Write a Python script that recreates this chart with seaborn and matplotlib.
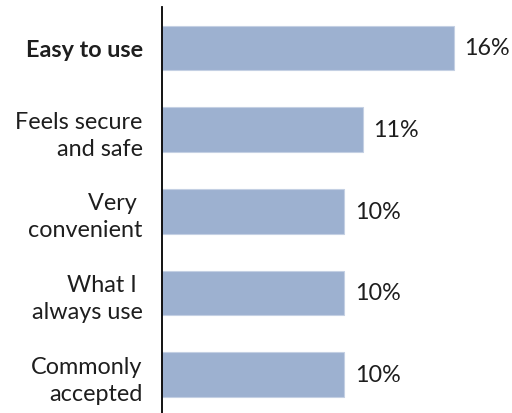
import matplotlib
matplotlib.use("Agg")
import matplotlib.pyplot as plt
import seaborn as sns
import pandas as pd

# Reasons given, share of respondents (%)
reasons = ["Easy to use", "Feels secure\nand safe", "Very \nconvenient",
           "What I \nalways use", "Commonly\naccepted"]
shares = [16, 11, 10, 10, 10]
value_labels = ["16%", "11%", "10%", "10%", "10%"]

df = pd.DataFrame({"reason": reasons, "share": shares})

sns.set_theme(style="white")
plt.rcParams["font.family"] = ["Lato", "DejaVu Sans"]

fig = plt.figure(figsize=(5.12, 4.14), dpi=100)
ax = fig.add_axes([161.5 / 512, 1 - 416.5 / 414, 1 - 161.5 / 512, 408.5 / 414])

sns.barplot(data=df, x="share", y="reason", orient="h", color="#9DB1D0",
            saturation=1, width=0.545, edgecolor="#C4D0E3", linewidth=0.8, ax=ax)

ax.set_xlim(0, (512 - 161.5) / 18.28)
ax.set_ylim(4.5, -0.5)
ax.set_xlabel("")
ax.set_ylabel("")
ax.set_xticks([])

for s in ["top", "right", "bottom"]:
    ax.spines[s].set_visible(False)
ax.spines["left"].set_color("#000000")
ax.spines["left"].set_linewidth(1.3)

ax.tick_params(axis="y", length=0, pad=13.5)
ax.set_yticks(range(len(reasons)))
ax.set_yticklabels(reasons, fontsize=16.8, color="#1E1E1E", linespacing=1.36,
                   ha="right")
ax.get_yticklabels()[0].set_fontweight("bold")

for i, (v, lab) in enumerate(zip(shares, value_labels)):
    ax.annotate(lab, xy=(v, i), xytext=(7.5, 0), textcoords="offset points",
                va="center", ha="left", fontsize=16.8, color="#1E1E1E")

fig.savefig("out.png", dpi=100)
